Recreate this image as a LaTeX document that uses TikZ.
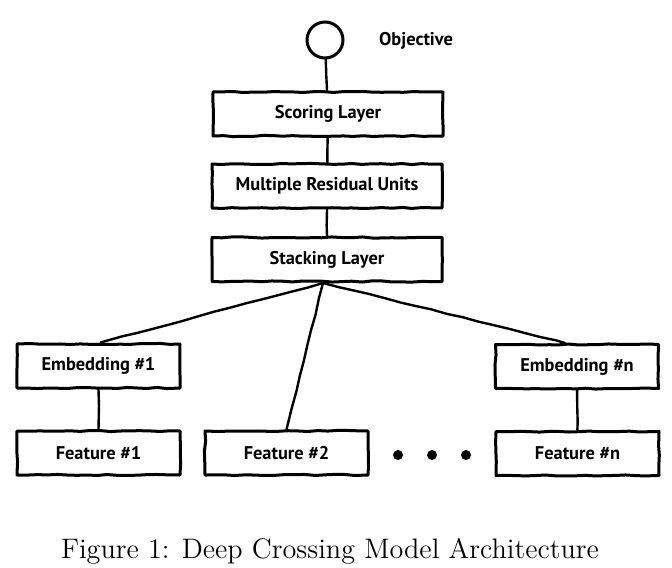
\documentclass[tikz,border=0pt]{standalone}
\usepackage{fontspec}
\newfontfamily\boxfont{PT Sans}
\usetikzlibrary{decorations.pathmorphing}
\begin{document}
\pgfmathsetseed{4217}
\begin{tikzpicture}[x=0.5pt,y=-0.5pt,
  sketch/.style={decorate,decoration={random steps,segment length=5pt,amplitude=0.3pt},line join=round,line cap=round},
  labelfont/.style={font=\boxfont\bfseries\fontsize{9.2}{11}\selectfont},
  layerbox/.style={draw,line width=1.5pt,sketch,minimum width=115pt,minimum height=22pt,inner sep=0pt,labelfont},
  smallbox/.style={layerbox,minimum width=81.5pt},
  wire/.style={line width=1.2pt,decorate,decoration={random steps,segment length=8pt,amplitude=0.25pt},line join=round,line cap=round},
  dotmark/.style={circle,fill,inner sep=0pt,minimum size=5pt}]
\useasboundingbox (0,0) rectangle (672,567);

% top objective
\node[circle,draw,line width=1.5pt,minimum size=18pt,inner sep=0pt] (obj) at (325,40) {};
\node[labelfont] (objlabel) at (416,41) {Objective};

% layer stack
\node[layerbox] (score) at (328,114) {Scoring Layer};
\node[layerbox] (resid) at (327,186) {Multiple Residual Units};
\node[layerbox] (stack) at (327,259.5) {Stacking Layer};

% embeddings and features
\node[smallbox] (emb1) at (98.5,366) {Embedding \#1};
\node[smallbox] (embn) at (577,366.5) {Embedding \#n};
\node[smallbox] (feat1) at (98.5,453) {Feature \#1};
\node[smallbox] (feat2) at (286.5,453) {Feature \#2};
\node[smallbox] (featn) at (577.5,453.5) {Feature \#n};

% ellipsis
\node[dotmark] (d1) at (398,455) {};
\node[dotmark] (d2) at (432,455) {};
\node[dotmark] (d3) at (466,455) {};

% connectors
\draw[wire] (obj) -- (score);
\draw[wire] (score) -- (resid);
\draw[wire] (resid) -- (stack);
\draw[wire] ([xshift=-2pt]stack.south) -- ([xshift=1pt]emb1.north);
\draw[wire] ([xshift=-2pt]stack.south) -- (feat2.north);
\draw[wire] ([xshift=-2pt]stack.south) -- ([xshift=-6pt]embn.north);
\draw[wire] (emb1) -- (feat1);
\draw[wire] (embn) -- (featn);

% caption
\node[font=\fontsize{14.1}{17}\selectfont] (caption) at (330,551) {Figure 1: Deep Crossing Model Architecture};
\end{tikzpicture}
\end{document}
